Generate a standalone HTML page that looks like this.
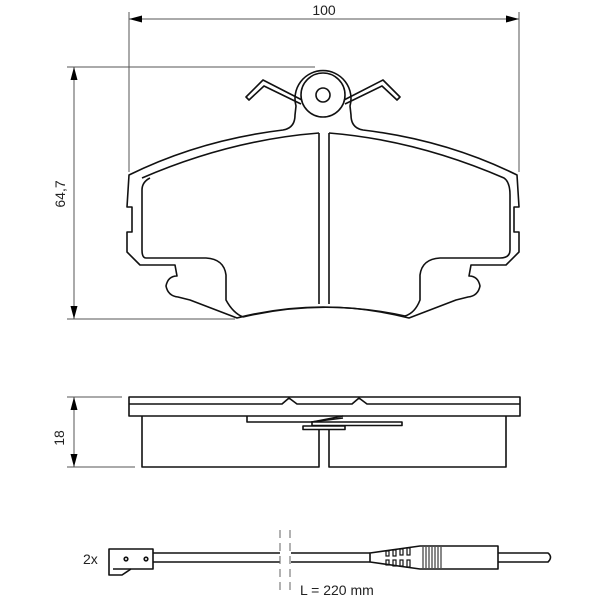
<!DOCTYPE html>
<html><head><style>
html,body{margin:0;padding:0;background:#fff;}
svg{display:block;}
text{font-family:"Liberation Sans","DejaVu Sans",sans-serif;fill:#222;}
</style></head><body>
<svg width="600" height="600" viewBox="0 0 600 600" xmlns="http://www.w3.org/2000/svg">
<defs>
<marker id="ar" viewBox="0 0 10 10" refX="10" refY="5" markerWidth="13" markerHeight="7" orient="auto-start-reverse" markerUnits="userSpaceOnUse" preserveAspectRatio="none">
<path d="M0,0 L10,5 L0,10 z" fill="#000"/></marker>
</defs>
<g stroke="#555" stroke-width="1" fill="none">
<line x1="129" y1="19" x2="519" y2="19" marker-start="url(#ar)" marker-end="url(#ar)"/>
<line x1="129" y1="12" x2="129" y2="172"/>
<line x1="519" y1="12" x2="519" y2="172"/>
<line x1="67" y1="67" x2="315" y2="67"/>
<line x1="67" y1="319" x2="235" y2="319"/>
<line x1="74" y1="67" x2="74" y2="319" marker-start="url(#ar)" marker-end="url(#ar)"/>
<line x1="67" y1="397" x2="122" y2="397"/>
<line x1="67" y1="467" x2="135" y2="467"/>
<line x1="74" y1="397" x2="74" y2="467" marker-start="url(#ar)" marker-end="url(#ar)"/>
</g>
<text x="324" y="15" font-size="14" text-anchor="middle">100</text>
<text transform="translate(65,194) rotate(-90)" font-size="14" text-anchor="middle">64,7</text>
<text transform="translate(64,438) rotate(-90)" font-size="14" text-anchor="middle">18</text>

<g stroke="#111" stroke-width="1.6" fill="none" stroke-linejoin="round">
<path d="M129,175 Q200,140 283,130 Q295,128 295,115 L296,106 A28,28 0 1 1 350,106 L351,115 Q351,128 363,130 Q446,140 517,175 L519,207 L514,207 L514,232 L519,232 L519,252 L506,265 L471,265 L469,276 Q478,276 480,286 Q478,296 468,297 L456,300 L409,318 Q323,296 237,318 L190,300 L178,297 Q168,296 166,286 Q168,276 177,276 L175,265 L140,265 L127,252 L127,232 L132,232 L132,207 L127,207 Z"/>
<path d="M142,178 Q230,140 319,133 M329,133 Q416,140 504,178 Q510,182 510,195 L510,250 Q510,258 500,258 L440,258 Q422,259 420,275 L420,300 Q415,313 405,316 M243,317 Q233,313 226,300 L226,275 Q224,259 206,258 L146,258 Q142,258 142,250 L142,190 Q142,182 150,178"/>
<path d="M243,317 Q323,298 405,316"/>
<line x1="319" y1="133" x2="319" y2="304"/>
<line x1="329" y1="133" x2="329" y2="304"/>
<circle cx="323" cy="95" r="22"/>
<circle cx="323" cy="95" r="7"/>
<path d="M302,100 L263,80 L246,97 L249,100 L264,86 L301,104"/>
<path d="M344,100 L383,80 L400,97 L397,100 L382,86 L345,104"/>

<rect x="129" y="397" width="391" height="19"/>
<path d="M129,404 L282,404 L289,398 L297,404 L352,404 L359,398 L367,404 L520,404"/>
<path d="M142,416 L142,467 L319,467 L319,429"/>
<path d="M329,429 L329,467 L506,467 L506,416"/>
<path d="M247,416 L247,422 L312,422 L343,416"/>
<rect x="312" y="422" width="90" height="3.5"/>
<rect x="303" y="426" width="42" height="3.5"/>
<line x1="311" y1="422" x2="343" y2="418"/>

<path d="M109,549 L153,549 L153,569 L131,569 L122,575 L109,575 Z"/>
<line x1="113" y1="569" x2="131" y2="569"/>
<circle cx="126" cy="559" r="1.8"/><circle cx="146" cy="559" r="1.8"/>
<line x1="153" y1="553" x2="280" y2="553"/><line x1="153" y1="562" x2="280" y2="562"/>
<line x1="291" y1="553" x2="370" y2="553"/><line x1="291" y1="562" x2="370" y2="562"/>
<path d="M370,553 L420,546 L498,546 L498,569 L420,569 L370,562 Z"/>
<path d="M498,553 L548,553 Q553,557 548,562 L498,562"/>
</g>
<g stroke="#111" stroke-width="1">
<line x1="423" y1="547" x2="423" y2="568"/><line x1="426" y1="547" x2="426" y2="568"/>
<line x1="429" y1="547" x2="429" y2="568"/><line x1="432" y1="547" x2="432" y2="568"/>
<line x1="435" y1="547" x2="435" y2="568"/><line x1="438" y1="547" x2="438" y2="568"/>
<line x1="441" y1="547" x2="441" y2="568"/>
</g>
<g stroke="#111" stroke-width="1.2" fill="none">
<rect x="386" y="551" width="3" height="5"/><rect x="393" y="550" width="3" height="6"/><rect x="400" y="549" width="3" height="6"/><rect x="407" y="548" width="3" height="7"/>
<rect x="386" y="560" width="3" height="5"/><rect x="393" y="560" width="3" height="6"/><rect x="400" y="560" width="3" height="6"/><rect x="407" y="560" width="3" height="7"/>
</g>
<g stroke="#666" stroke-width="1" stroke-dasharray="8,5">
<line x1="280" y1="530" x2="280" y2="592"/><line x1="290" y1="530" x2="290" y2="592"/>
</g>
<text x="83" y="564" font-size="14">2x</text>
<text x="300" y="595" font-size="14">L = 220 mm</text>
</svg>
</body></html>
